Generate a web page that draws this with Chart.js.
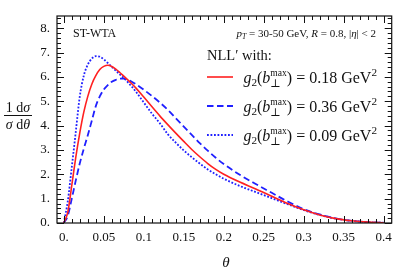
<!DOCTYPE html>
<html>
<head>
<meta charset="utf-8">
<script src="https://cdn.jsdelivr.net/npm/chart.js@4"></script>
<style>
  html, body { margin: 0; padding: 0; background: #fff; }
  #chart { display: block; }
</style>
</head>
<body>
<canvas id="chart" width="399" height="274"></canvas>
<script>
// theta grid and the three NLL' curves
const theta = [0, 0.005, 0.01, 0.015, 0.02, 0.025, 0.03, 0.035, 0.04, 0.045, 0.05, 0.055, 0.06, 0.065, 0.07, 0.075, 0.08, 0.085, 0.09,
  0.1, 0.11, 0.12, 0.13, 0.14, 0.15, 0.16, 0.17, 0.18, 0.19, 0.2, 0.22, 0.24, 0.26, 0.28, 0.3, 0.32, 0.34, 0.36, 0.38, 0.4];
const g2_018 = [0, 0.45, 1.55, 2.7, 3.7, 4.55, 5.2, 5.7, 6.05, 6.3, 6.43, 6.48, 6.43, 6.32, 6.18, 6.03, 5.88, 5.72, 5.55,
  5.17, 4.78, 4.4, 4.04, 3.69, 3.35, 3.02, 2.72, 2.44, 2.2, 2.0, 1.68, 1.4, 1.1, 0.8, 0.54, 0.33, 0.18, 0.09, 0.035, 0.01];
const g2_036 = [0, 0.3, 1.0, 1.75, 2.45, 3.05, 3.6, 4.2, 4.8, 5.2, 5.48, 5.66, 5.8, 5.88, 5.93, 5.93, 5.88, 5.8, 5.7,
  5.47, 5.22, 4.95, 4.65, 4.3, 3.96, 3.62, 3.28, 2.97, 2.68, 2.42, 1.98, 1.6, 1.24, 0.88, 0.57, 0.35, 0.19, 0.09, 0.035, 0.01];
const g2_009 = [0, 0.9, 2.3, 3.75, 5.2, 6.05, 6.5, 6.75, 6.85, 6.83, 6.72, 6.57, 6.41, 6.26, 6.1, 5.95, 5.78, 5.6, 5.4,
  4.95, 4.5, 4.1, 3.65, 3.3, 2.98, 2.7, 2.44, 2.2, 2.0, 1.82, 1.52, 1.27, 1.02, 0.77, 0.53, 0.33, 0.18, 0.09, 0.035, 0.01];

const xTicks = [0, 0.05, 0.1, 0.15, 0.2, 0.25, 0.3, 0.35, 0.4];
const xTickLabels = ['0.', '0.05', '0.1', '0.15', '0.2', '0.25', '0.3', '0.35', '0.4'];
const yTicks = [0, 1, 2, 3, 4, 5, 6, 7, 8];
const yTickLabels = ['0.', '1.', '2.', '3.', '4.', '5.', '6.', '7.', '8.'];
const g2Values = ['0.18', '0.36', '0.09'];

const RED = '#ff2020';
const BLUE = '#2020ff';
const INK = '#111';
const SERIF = '"Liberation Serif", "DejaVu Serif", serif';

const canvas = document.getElementById('chart');

function fontOf(p, base) {
  return (p.it ? 'italic ' : '') + (base * (p.s || 1)).toFixed(1) + 'px ' + SERIF;
}

// lay out a run of text pieces (italic, sub/superscripts, stacked scripts)
function layoutRich(ctx, parts, base) {
  let x = 0;
  const items = [];
  for (let i = 0; i < parts.length; i++) {
    const p = parts[i];
    ctx.font = fontOf(p, base);
    const w = ctx.measureText(p.t).width;
    items.push({ ...p, x });
    if (p.stack) {
      const q = parts[i + 1];
      ctx.font = fontOf(q, base);
      const w2 = ctx.measureText(q.t).width;
      items.push({ ...q, x });
      x += Math.max(w, w2);
      i++;
    } else {
      x += w;
    }
  }
  return { items, width: x };
}

function drawRich(ctx, parts, x, y, base, align) {
  const lay = layoutRich(ctx, parts, base);
  let x0 = x;
  if (align === 'right') x0 = x - lay.width;
  if (align === 'center') x0 = x - lay.width / 2;
  ctx.textBaseline = 'alphabetic';
  ctx.textAlign = 'left';
  lay.items.forEach(p => {
    ctx.font = fontOf(p, base);
    ctx.fillText(p.t, x0 + p.x, y + (p.dy || 0));
  });
  return lay.width;
}

function g2Parts(v) {
  return [
    { t: 'g', it: 1 }, { t: '2', s: 0.7, dy: 3 }, { t: '(' }, { t: 'b', it: 1 },
    { t: 'max', s: 0.6, dy: -7, stack: 1 }, { t: '\u22A5', s: 0.7, dy: 4 },
    { t: ') = ' + v + ' GeV' }, { t: '2', s: 0.7, dy: -7 }
  ];
}

const framePlugin = {
  id: 'frame',
  afterDraw(chart) {
    const ctx = chart.ctx;
    const a = chart.chartArea;
    const xs = chart.scales.x, ys = chart.scales.y;
    ctx.save();
    ctx.strokeStyle = INK;
    ctx.lineWidth = 1.2;
    ctx.strokeRect(a.left, a.top, a.right - a.left, a.bottom - a.top);

    // inward ticks on all four sides
    ctx.lineWidth = 1;
    ctx.beginPath();
    for (let i = 0; i <= 41; i++) {
      const v = i / 100;
      const px = Math.round(xs.getPixelForValue(v)) + 0.5;
      if (px >= a.right - 1) continue;
      const len = i % 5 === 0 ? 7 : 4;
      ctx.moveTo(px, a.bottom); ctx.lineTo(px, a.bottom - len);
      ctx.moveTo(px, a.top); ctx.lineTo(px, a.top + len);
    }
    for (let i = 0; i <= 42; i++) {
      const v = i / 5;
      const py = Math.round(ys.getPixelForValue(v)) + 0.5;
      const len = i % 5 === 0 ? 7 : 4;
      ctx.moveTo(a.left, py); ctx.lineTo(a.left + len, py);
      ctx.moveTo(a.right, py); ctx.lineTo(a.right - len, py);
    }
    ctx.stroke();

    ctx.fillStyle = INK;
    // annotations
    drawRich(ctx, [{ t: 'ST-WTA' }], 73, 37, 12, 'left');
    drawRich(ctx, [
      { t: 'p', it: 1 }, { t: 'T', it: 1, s: 0.7, dy: 2 }, { t: ' = 30-50 GeV, ' }, { t: 'R', it: 1 },
      { t: ' = 0.8, |' }, { t: '\u03B7', it: 1 }, { t: '| < 2' }
    ], 376, 37, 11, 'right');
    drawRich(ctx, [{ t: 'NLL\u2032 with:' }], 207, 60, 14.5, 'left');

    // legend entries
    const rows = [
      { y: 77, color: RED, dash: [], w: 1.6 },
      { y: 106, color: BLUE, dash: [6.5, 3.5], w: 1.8 },
      { y: 135, color: BLUE, dash: [1.8, 1.7], w: 1.8 }
    ];
    rows.forEach((r, i) => {
      ctx.strokeStyle = r.color;
      ctx.lineWidth = r.w;
      ctx.setLineDash(r.dash);
      ctx.beginPath();
      ctx.moveTo(207, r.y); ctx.lineTo(233, r.y);
      ctx.stroke();
      ctx.setLineDash([]);
      ctx.fillStyle = INK;
      drawRich(ctx, g2Parts(g2Values[i]), 377, r.y + 6, 16, 'right');
    });

    // axis titles
    drawRich(ctx, [{ t: '1 d' }, { t: '\u03C3', it: 1 }], 18, 112, 14, 'center');
    ctx.strokeStyle = INK;
    ctx.lineWidth = 1;
    ctx.beginPath();
    ctx.moveTo(4, 115.5); ctx.lineTo(32, 115.5);
    ctx.stroke();
    drawRich(ctx, [{ t: '\u03C3', it: 1 }, { t: ' d' }, { t: '\u03B8', it: 1 }], 18, 129, 14, 'center');
    drawRich(ctx, [{ t: '\u03B8', it: 1 }], 226, 267, 15, 'center');
    ctx.restore();
  }
};

function series(values) {
  return theta.map((t, i) => ({ x: t, y: values[i] }));
}

const tickFont = { family: SERIF, size: 13 };

new Chart(canvas, {
  type: 'line',
  data: {
    datasets: [
      { label: '0.18', data: series(g2_018), borderColor: RED, borderWidth: 1.6, pointRadius: 0, cubicInterpolationMode: 'monotone', order: 0 },
      { label: '0.36', data: series(g2_036), borderColor: BLUE, borderWidth: 1.8, borderDash: [6.5, 3.5], pointRadius: 0, cubicInterpolationMode: 'monotone', order: 1 },
      { label: '0.09', data: series(g2_009), borderColor: BLUE, borderWidth: 1.8, borderDash: [1.8, 1.7], pointRadius: 0, cubicInterpolationMode: 'monotone', order: 2 }
    ]
  },
  options: {
    responsive: false,
    animation: false,
    layout: { padding: { top: 16, right: 7, left: 0, bottom: 0 } },
    plugins: { legend: { display: false }, tooltip: { enabled: false } },
    scales: {
      x: {
        type: 'linear', min: -0.0085, max: 0.41,
        grid: { display: false, drawTicks: false },
        border: { display: false },
        afterBuildTicks: s => { s.ticks = xTicks.map(v => ({ value: v })); },
        afterFit: s => { s.height = 51; },
        ticks: { font: tickFont, color: INK, padding: 7, maxRotation: 0, autoSkip: false,
          callback: v => xTickLabels[xTicks.indexOf(v)] }
      },
      y: {
        type: 'linear', min: 0, max: 8.5,
        grid: { display: false, drawTicks: false },
        border: { display: false },
        afterBuildTicks: s => { s.ticks = yTicks.map(v => ({ value: v })); },
        afterFit: s => { s.width = 57; },
        ticks: { font: tickFont, color: INK, padding: 7, autoSkip: false,
          callback: v => yTickLabels[yTicks.indexOf(v)] }
      }
    }
  },
  plugins: [framePlugin]
});
</script>
</body>
</html>
